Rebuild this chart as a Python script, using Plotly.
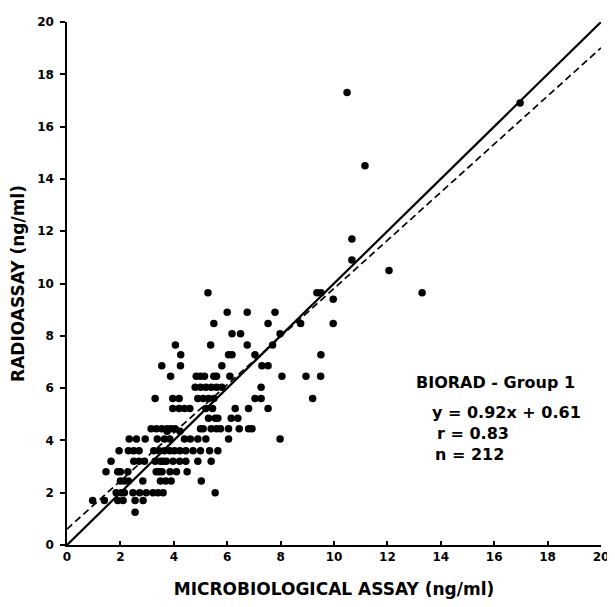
import plotly.graph_objects as go

# Data rows (y level -> list of x values)
rows = {
    1.25: [2.55],
    1.7: [0.96, 1.4, 1.9, 2.1, 2.55, 2.85],
    2.0: [1.84, 2.03, 2.15, 2.47, 2.72, 2.97, 3.22, 3.41, 3.6, 5.55],
    2.45: [2.0, 2.15, 2.3, 2.84, 3.5, 3.7, 3.9, 5.03],
    2.8: [1.46, 1.9, 2.0, 2.28, 3.34, 3.45, 3.56, 3.86, 4.1, 4.5],
    3.2: [1.65, 2.5, 2.7, 2.9, 3.3, 3.5, 3.6, 3.72, 3.97, 4.22, 4.45, 4.9, 5.4],
    3.6: [1.95, 2.3, 2.5, 2.7, 3.25, 3.45, 3.65, 3.85, 4.03, 4.23, 4.45, 4.72, 5.0, 5.34, 5.65],
    4.05: [2.33, 2.6, 2.93, 3.38, 3.65, 3.85, 4.4, 4.62, 4.9, 5.2, 6.05, 7.98],
    4.35: [3.75, 4.23],
    4.45: [3.15, 3.35, 3.55, 3.75, 3.9, 4.05, 5.0, 5.1, 5.4, 5.6, 5.75, 6.05, 6.45, 6.8, 6.93],
    4.85: [5.3, 5.55, 5.65, 6.15, 6.4],
    5.22: [3.96, 4.2, 4.4, 4.6, 5.2, 5.45, 6.3, 6.8, 7.53],
    5.6: [3.3, 3.96, 4.2, 4.9, 5.1, 5.3, 5.5, 7.04, 7.27, 9.2],
    6.03: [4.8, 5.0, 5.2, 5.4, 5.6, 5.8, 7.27],
    6.45: [3.88, 4.84, 5.0, 5.15, 5.5, 5.6, 6.1, 8.05, 8.95, 9.5],
    6.85: [3.55, 4.25, 5.8, 7.3, 7.53],
    7.28: [4.26, 6.05, 6.18, 7.04, 9.51],
    7.65: [4.06, 5.38, 6.75, 7.7],
    8.08: [6.18, 6.5, 7.98],
    8.47: [5.5, 7.53, 8.75, 9.97],
    8.9: [6.0, 6.75, 7.79],
    9.4: [9.97],
    9.65: [5.28, 9.36, 9.51, 13.3],
    10.5: [12.06],
    10.9: [10.67],
    11.7: [10.67],
    14.5: [11.16],
    16.9: [16.97],
    17.3: [10.49],
}

x_vals = [x for y, xs in rows.items() for x in xs]
y_vals = [y for y, xs in rows.items() for x in xs]

slope, intercept = 0.92, 0.61
line_x = [0, 20]
identity_y = [0, 20]
reg_y = [intercept + slope * v for v in line_x]

tick_vals = list(range(0, 21, 2))
tick_text = [str(v) for v in tick_vals]

FONT = "DejaVu Sans"

fig = go.Figure()
fig.add_trace(go.Scatter(x=line_x, y=identity_y, mode="lines",
                         line=dict(color="black", width=2.2), showlegend=False,
                         hoverinfo="skip"))
fig.add_trace(go.Scatter(x=line_x, y=reg_y, mode="lines",
                         line=dict(color="black", width=1.7, dash="7px,4px"),
                         showlegend=False, hoverinfo="skip"))
fig.add_trace(go.Scatter(x=x_vals, y=y_vals, mode="markers",
                         marker=dict(color="black", size=7.5), showlegend=False))

# page body has an 8px margin, so the figure is sized/offset to compensate
fig.update_layout(
    width=607, height=599,
    margin=dict(l=59, r=14, t=14, b=62),
    paper_bgcolor="white", plot_bgcolor="white",
    font=dict(family=FONT, color="black", size=12, weight="bold"),
)
fig.update_xaxes(
    range=[0, 20], tickvals=tick_vals, ticktext=tick_text, automargin=False,
    showgrid=False, zeroline=False, showline=True, linecolor="black", linewidth=1.5,
    ticks="inside", ticklen=4, tickwidth=1.5, tickcolor="black",
    tickfont=dict(family=FONT, size=12, weight="bold"),
    title=dict(text="MICROBIOLOGICAL ASSAY (ng/ml)", standoff=20,
               font=dict(family=FONT, size=17, weight="bold")),
)
fig.update_yaxes(
    range=[0, 20], tickvals=tick_vals, ticktext=tick_text, automargin=False,
    showgrid=False, zeroline=False, showline=True, linecolor="black", linewidth=1.5,
    ticks="outside", ticklen=5, tickwidth=1.5, tickcolor="black", ticklabelstandoff=4,
    tickfont=dict(family=FONT, size=12, weight="bold"),
    title=dict(text="RADIOASSAY (ng/ml)", standoff=10,
               font=dict(family=FONT, size=17, weight="bold")),
)

notes = [
    ("BIORAD - Group 1", 13.0, 6.2),
    ("y = 0.92x + 0.61", 13.6, 5.05),
    ("r = 0.83", 13.8, 4.25),
    ("n = 212", 13.7, 3.47),
]
for text, xx, yy in notes:
    fig.add_annotation(x=xx, y=yy, text=text, showarrow=False, xanchor="left",
                       yanchor="middle", font=dict(family=FONT, size=16, weight="bold"))

fig.write_html("out.html")
